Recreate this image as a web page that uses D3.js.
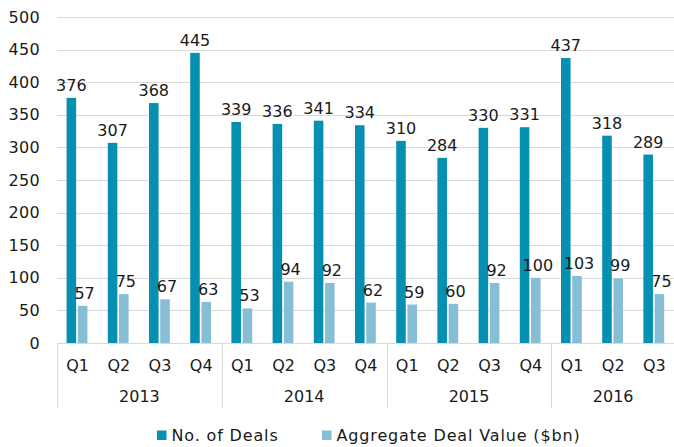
<!DOCTYPE html>
<html>
<head>
<meta charset="utf-8">
<script src="https://cdn.jsdelivr.net/npm/d3@7"></script>
<style>
  html, body { margin: 0; padding: 0; background: #ffffff; }
  svg { display: block; }
  text { font-family: "DejaVu Sans", sans-serif; fill: #1a1a1a; }
</style>
</head>
<body>
<svg id="chart" width="674" height="447"></svg>
<script>
const years = ["2013", "2014", "2015", "2016"];
const quarters = ["Q1","Q2","Q3","Q4","Q1","Q2","Q3","Q4","Q1","Q2","Q3","Q4","Q1","Q2","Q3"];
const yearOfCategory = ["2013","2013","2013","2013","2014","2014","2014","2014","2015","2015","2015","2015","2016","2016","2016"];
const deals = [376, 307, 368, 445, 339, 336, 341, 334, 310, 284, 330, 331, 437, 318, 289];
const dealValue = [57, 75, 67, 63, 53, 94, 92, 62, 59, 60, 92, 100, 103, 99, 75];
const yTicks = [0, 50, 100, 150, 200, 250, 300, 350, 400, 450, 500];
const seriesNames = ["No. of Deals", "Aggregate Deal Value ($bn)"];
const seriesColors = ["#058fb0", "#86bed6"];

(function () {
const svg = d3.select("#chart");
const mLeft = 57, mRight = 675, mTop = 17, mBottom = 343;
const fontSize = 16;

const idx = d3.range(quarters.length);
const x = d3.scaleBand().domain(idx).range([mLeft, mRight]).padding(0);
const y = d3.scaleLinear().domain([0, 500]).range([mBottom, mTop]);

// gridlines
svg.append("g").selectAll("line").data(yTicks.filter(d => d > 0)).join("line")
  .attr("x1", mLeft).attr("x2", mRight)
  .attr("y1", d => Math.round(y(d)) + 0.5).attr("y2", d => Math.round(y(d)) + 0.5)
  .attr("stroke", "#d9d9d9").attr("stroke-width", 1);

// y axis labels
const yAxis = d3.axisLeft(y).tickValues(yTicks).tickSize(0).tickPadding(17);
const gy = svg.append("g").attr("transform", `translate(${mLeft},0)`).call(yAxis);
gy.select(".domain").remove();
gy.selectAll("text").style("font-family", "DejaVu Sans, sans-serif").style("font-size", fontSize + "px")
  .style("letter-spacing", "0.3px").attr("fill", "#1a1a1a");

// series offset within category (relative to category center)
const sub = d3.scaleBand().domain([0, 1]).range([-11, 9.8]).paddingInner(0.15);

const series = [deals, dealValue];
series.forEach((vals, s) => {
  const g = svg.append("g");
  const cx = i => x(i) + x.bandwidth() / 2;
  g.selectAll("rect").data(idx).join("rect")
    .attr("x", i => cx(i) + sub(s))
    .attr("width", sub.bandwidth())
    .attr("y", i => y(vals[i]))
    .attr("height", i => y(0) - y(vals[i]))
    .attr("fill", seriesColors[s]);
  g.selectAll("text").data(idx).join("text")
    .attr("x", i => cx(i) + sub(s) + sub.bandwidth() / 2 + (s === 1 ? 2 : 0))
    .attr("y", i => y(vals[i]) - 7)
    .attr("text-anchor", "middle")
    .style("font-size", fontSize + "px")
    .text(i => vals[i]);
});

// baseline
svg.append("line").attr("x1", mLeft).attr("x2", mRight).attr("y1", mBottom + 0.5).attr("y2", mBottom + 0.5)
  .attr("stroke", "#d9d9d9");

// quarter labels
svg.append("g").selectAll("text").data(idx).join("text")
  .attr("x", i => x(i) + x.bandwidth() / 2)
  .attr("y", 371)
  .attr("text-anchor", "middle")
  .style("font-size", fontSize + "px")
  .text(i => quarters[i]);

// year groups
const groups = years.map(yr => {
  const members = idx.filter(i => yearOfCategory[i] === yr);
  return { yr, start: x(members[0]), end: x(members[members.length - 1]) + x.bandwidth() };
});
const dividers = [groups[0].start].concat(groups.map(g => g.end));
svg.append("g").selectAll("line").data(dividers).join("line")
  .attr("x1", d => Math.round(d) + 0.5).attr("x2", d => Math.round(d) + 0.5)
  .attr("y1", mBottom).attr("y2", 408)
  .attr("stroke", "#d9d9d9");
svg.append("g").selectAll("text").data(groups).join("text")
  .attr("x", g => (g.start + g.end) / 2)
  .attr("y", 402)
  .attr("text-anchor", "middle")
  .style("font-size", fontSize + "px")
  .text(g => g.yr);

// legend
const legendX = [157, 322];
const lg = svg.append("g");
seriesNames.forEach((name, s) => {
  lg.append("rect").attr("x", legendX[s]).attr("y", 430.5).attr("width", 9.5).attr("height", 9.5)
    .attr("fill", seriesColors[s]);
  lg.append("text").attr("x", legendX[s] + 14.5).attr("y", 441)
    .style("font-size", fontSize + "px").style("letter-spacing", "0.85px").text(name);
});
})();
</script>
</body>
</html>
